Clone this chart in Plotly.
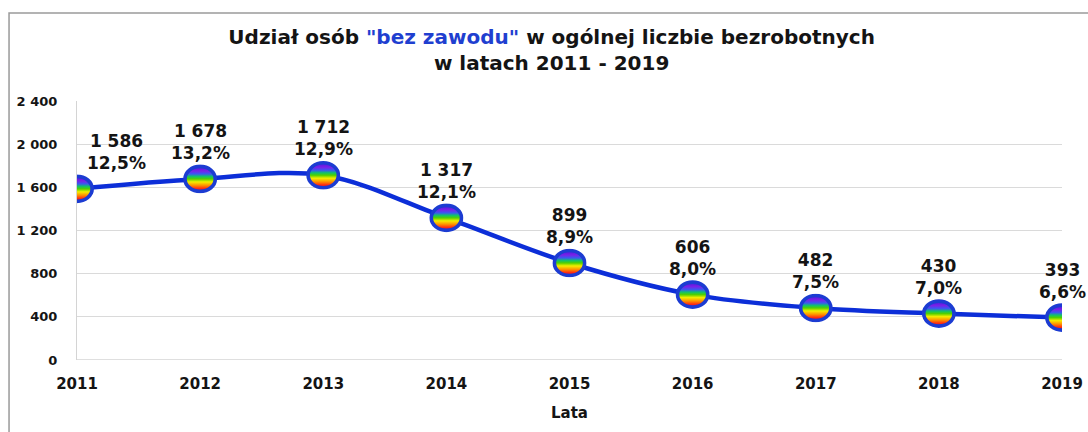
import plotly.graph_objects as go
from urllib.parse import quote

years = [2011, 2012, 2013, 2014, 2015, 2016, 2017, 2018, 2019]
counts = [1586, 1678, 1712, 1317, 899, 606, 482, 430, 393]
shares = ["12,5%", "13,2%", "12,9%", "12,1%", "8,9%", "8,0%", "7,5%", "7,0%", "6,6%"]
count_labels = ["1 586", "1 678", "1 712", "1 317", "899", "606", "482", "430", "393"]
y_ticks = [0, 400, 800, 1200, 1600, 2000, 2400]
y_ticktext = ["0", "400", "800", "1 200", "1 600", "2 000", "2 400"]

FONT = "DejaVu Sans"
TXT = "#141414"
LINE_BLUE = "#0c2ed8"

svg = (
    '<svg xmlns="http://www.w3.org/2000/svg" width="66" height="56" viewBox="0 0 66 56">'
    '<defs><linearGradient id="g" x1="0" y1="0" x2="0" y2="1">'
    '<stop offset="0" stop-color="#4a18d8"/>'
    '<stop offset="0.18" stop-color="#7a20e8"/>'
    '<stop offset="0.3" stop-color="#3a58f0"/>'
    '<stop offset="0.4" stop-color="#10c070"/>'
    '<stop offset="0.5" stop-color="#50d000"/>'
    '<stop offset="0.62" stop-color="#f4ee00"/>'
    '<stop offset="0.76" stop-color="#ff9000"/>'
    '<stop offset="0.88" stop-color="#ff3010"/>'
    '<stop offset="1" stop-color="#e00030"/>'
    '</linearGradient></defs>'
    '<ellipse cx="33" cy="28" rx="29" ry="24" fill="url(#g)" stroke="#1c3cd2" stroke-width="7"/>'
    '</svg>'
)
src = "data:image/svg+xml;charset=utf-8," + quote(svg)

fig = go.Figure()
fig.add_trace(go.Scatter(
    x=years, y=counts, mode="lines",
    line=dict(color=LINE_BLUE, width=4.5, shape="spline", smoothing=1.0),
    hoverinfo="skip", showlegend=False,
))

images = []
for yr, c in zip(years, counts):
    images.append(dict(
        source=src, xref="x", yref="y", x=yr, y=c,
        sizex=0.28, sizey=270, xanchor="center", yanchor="middle",
        sizing="stretch", layer="above",
    ))

annotations = []
for i, (yr, c, cl, sh) in enumerate(zip(years, counts, count_labels, shares)):
    annotations.append(dict(
        x=yr, y=c, xref="x", yref="y",
        text=f"{cl}<br>{sh}", showarrow=False,
        yanchor="bottom", xanchor="center",
        yshift=14, xshift=39 if i == 0 else 0,
        font=dict(family=FONT, size=17, color=TXT, weight="bold"),
        align="center",
    ))

fig.update_layout(
    width=1088, height=432,
    margin=dict(l=77, r=26, t=101, b=72),
    paper_bgcolor="white", plot_bgcolor="white",
    title=dict(
        text='Udział osób <span style="color:#1f3fd0">"bez zawodu"</span> w ogólnej liczbie bezrobotnych<br>w latach 2011 - 2019',
        x=0.507, xanchor="center", y=0.898, yanchor="middle",
        font=dict(family=FONT, size=20, color=TXT, weight="bold"),
    ),
    xaxis=dict(
        range=[2011, 2019], tickvals=years, ticktext=[str(y) for y in years],
        showgrid=False, zeroline=False, showline=False, automargin=False,
        ticks="", ticklabelstandoff=13,
        tickfont=dict(family=FONT, size=15, color=TXT, weight="bold"),
        title=dict(text="Lata", font=dict(family=FONT, size=15, color=TXT, weight="bold"), standoff=15),
    ),
    yaxis=dict(
        range=[0, 2400], tickvals=y_ticks, ticktext=y_ticktext,
        showgrid=True, gridcolor="#dadada", gridwidth=1.2, automargin=False,
        zeroline=False, showline=True, linecolor="#d4d4d4", linewidth=1.2,
        ticks="", ticklabelstandoff=16,
        tickfont=dict(family=FONT, size=13, color=TXT, weight="bold"),
    ),
    images=images,
    annotations=annotations,
    shapes=[
        dict(type="line", xref="paper", yref="y", x0=0, x1=1, y0=0, y1=0,
             line=dict(color="#d4d4d4", width=1.5), layer="below"),
        dict(type="rect", xref="paper", yref="paper",
             x0=-0.069, x1=1.2, y0=-0.6, y1=1.34,
             line=dict(color="#9a9a9a", width=1.5), fillcolor="rgba(0,0,0,0)"),
    ],
)

fig.write_html(
    "out.html",
    config={"displayModeBar": False},
    post_script="document.body.style.margin='0';document.body.style.overflow='hidden';",
)
